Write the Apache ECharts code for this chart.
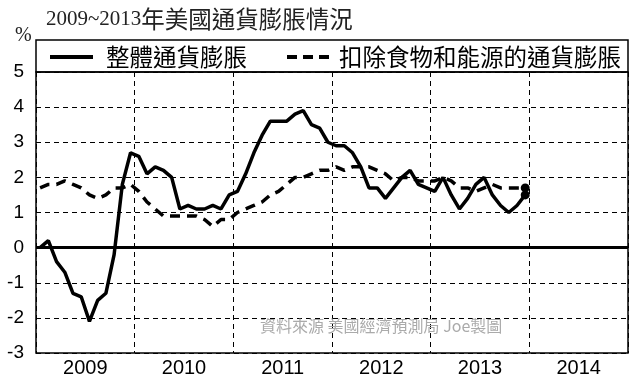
<!DOCTYPE html>
<html>
<head>
<meta charset="utf-8">
<script src="https://cdn.jsdelivr.net/npm/echarts@6/dist/echarts.min.js"></script>
<style>
html,body{margin:0;padding:0;background:#fff;}
#chart{width:633px;height:378px;}
</style>
</head>
<body>
<div id="chart"></div>
<script>
// Year labels (category bands)
var years = ['2009', '2010', '2011', '2012', '2013', '2014'];
// Y tick range
var yTicks = [-3, -2, -1, 0, 1, 2, 3, 4, 5];
// Monthly headline CPI YoY (%), Jan 2009 - Dec 2013
var headline = [
  0.0, 0.2, -0.4, -0.7, -1.3, -1.4, -2.1, -1.5, -1.3, -0.2, 1.8, 2.7,
  2.6, 2.1, 2.3, 2.2, 2.0, 1.1, 1.2, 1.1, 1.1, 1.2, 1.1, 1.5,
  1.6, 2.1, 2.7, 3.2, 3.6, 3.6, 3.6, 3.8, 3.9, 3.5, 3.4, 3.0,
  2.9, 2.9, 2.7, 2.3, 1.7, 1.7, 1.4, 1.7, 2.0, 2.2, 1.8, 1.7,
  1.6, 2.0, 1.5, 1.1, 1.4, 1.8, 2.0, 1.5, 1.2, 1.0, 1.2, 1.5
];
// Monthly core CPI YoY (%), Jan 2009 - Dec 2013
var core = [
  1.7, 1.8, 1.8, 1.9, 1.8, 1.7, 1.5, 1.4, 1.5, 1.7, 1.7, 1.8,
  1.6, 1.3, 1.1, 0.9, 0.9, 0.9, 0.9, 0.9, 0.8, 0.6, 0.8, 0.8,
  1.0, 1.1, 1.2, 1.3, 1.5, 1.6, 1.8, 2.0, 2.0, 2.1, 2.2, 2.2,
  2.3, 2.2, 2.3, 2.3, 2.3, 2.2, 2.1, 1.9, 2.0, 2.0, 1.9, 1.9,
  1.9, 2.0, 1.9, 1.7, 1.7, 1.6, 1.7, 1.8, 1.7, 1.7, 1.7, 1.7
];
var seriesNames = ['整體通貨膨脹', '扣除食物和能源的通貨膨脹'];
var titleDigits = '2009~2013';
var titleRest = '年美國通貨膨脹情況';
var sourceText = '資料來源 美國經濟預測局 Joe製圖';

function toPoints(arr) {
  return arr.map(function (v, i) { return [i + 0.5, v]; });
}
function endSymbol(arr) {
  return function (val, params) { return params.dataIndex === arr.length - 1 ? 'circle' : 'none'; };
}

var CJK = '"Noto Sans CJK TC", "Noto Sans CJK SC", sans-serif';
var chart = echarts.init(document.getElementById('chart'), null, {renderer: 'canvas'});
var option = {
  animation: false,
  backgroundColor: '#fff',
  grid: {left: 36, right: 5, top: 72, bottom: 25, show: true, borderColor: '#000', borderWidth: 1.5, backgroundColor: 'transparent'},
  xAxis: [{
    type: 'value', min: 0, max: years.length * 12, interval: 12,
    axisLine: {show: false}, axisTick: {show: false}, axisLabel: {show: false},
    splitLine: {show: true, lineStyle: {color: '#000', width: 1, type: [5, 4]}}
  }, {
    type: 'category', data: years, position: 'bottom', boundaryGap: true,
    axisLine: {show: false}, axisTick: {show: false}, splitLine: {show: false},
    axisLabel: {fontSize: 20, color: '#000', fontFamily: '"Liberation Sans", Arial, sans-serif', margin: 5}
  }],
  yAxis: {
    type: 'value', min: yTicks[0], max: yTicks[yTicks.length - 1], interval: 1,
    axisLine: {show: false}, axisTick: {show: false},
    axisLabel: {fontSize: 19, color: '#000', fontFamily: '"Liberation Sans", Arial, sans-serif', margin: 12},
    splitLine: {show: true, lineStyle: {color: '#000', width: 1, type: [5, 4]}}
  },
  series: [{
    name: seriesNames[0], type: 'line', xAxisIndex: 0, data: toPoints(headline),
    symbol: endSymbol(headline), symbolSize: 9, showSymbol: true,
    lineStyle: {color: '#000', width: 3.5, type: 'solid'},
    itemStyle: {color: '#000'}, z: 5,
    markLine: {silent: true, symbol: 'none', label: {show: false},
      lineStyle: {color: '#000', width: 3, type: 'solid'}, data: [{yAxis: 0}]}
  }, {
    name: seriesNames[1], type: 'line', xAxisIndex: 0, data: toPoints(core),
    symbol: endSymbol(core), symbolSize: 9, showSymbol: true,
    lineStyle: {color: '#000', width: 3.5, type: [10, 7]},
    itemStyle: {color: '#000'}, z: 4
  }],
  graphic: [
    {type: 'rect', shape: {x: 36, y: 40, width: 592, height: 32}, style: {fill: 'none', stroke: '#000', lineWidth: 1.5}, z: 10},
    {type: 'line', shape: {x1: 50, y1: 57, x2: 93, y2: 57}, style: {stroke: '#000', lineWidth: 4}, z: 10},
    {type: 'text', x: 106, y: 57, style: {text: seriesNames[0], fontSize: 23.5, fontFamily: CJK, fill: '#000', verticalAlign: 'middle'}, z: 10},
    {type: 'line', shape: {x1: 287, y1: 57, x2: 329, y2: 57}, style: {stroke: '#000', lineWidth: 4, lineDash: [10, 6]}, z: 10},
    {type: 'text', x: 339, y: 57, style: {text: seriesNames[1], fontSize: 23.5, fontFamily: CJK, fill: '#000', verticalAlign: 'middle'}, z: 10},
    {type: 'text', x: 46, y: 19, style: {
      text: '{d|' + titleDigits + '}{c|' + titleRest + '}', verticalAlign: 'middle',
      rich: {
        d: {fontSize: 21, fontFamily: '"Liberation Serif", "Times New Roman", serif', fill: '#222', verticalAlign: 'middle'},
        c: {fontSize: 23.5, fontFamily: CJK, fill: '#222', verticalAlign: 'middle'}
      }
    }, z: 10},
    {type: 'text', x: 15, y: 36, style: {text: '%', fontSize: 20, fontFamily: '"Liberation Serif", serif', fill: '#222', verticalAlign: 'middle'}, z: 10},
    {type: 'text', x: 260, y: 326, style: {text: sourceText, fontSize: 16, fontFamily: CJK, fill: '#aaa', verticalAlign: 'middle'}, z: 10}
  ]
};
chart.setOption(option);
</script>
</body>
</html>
